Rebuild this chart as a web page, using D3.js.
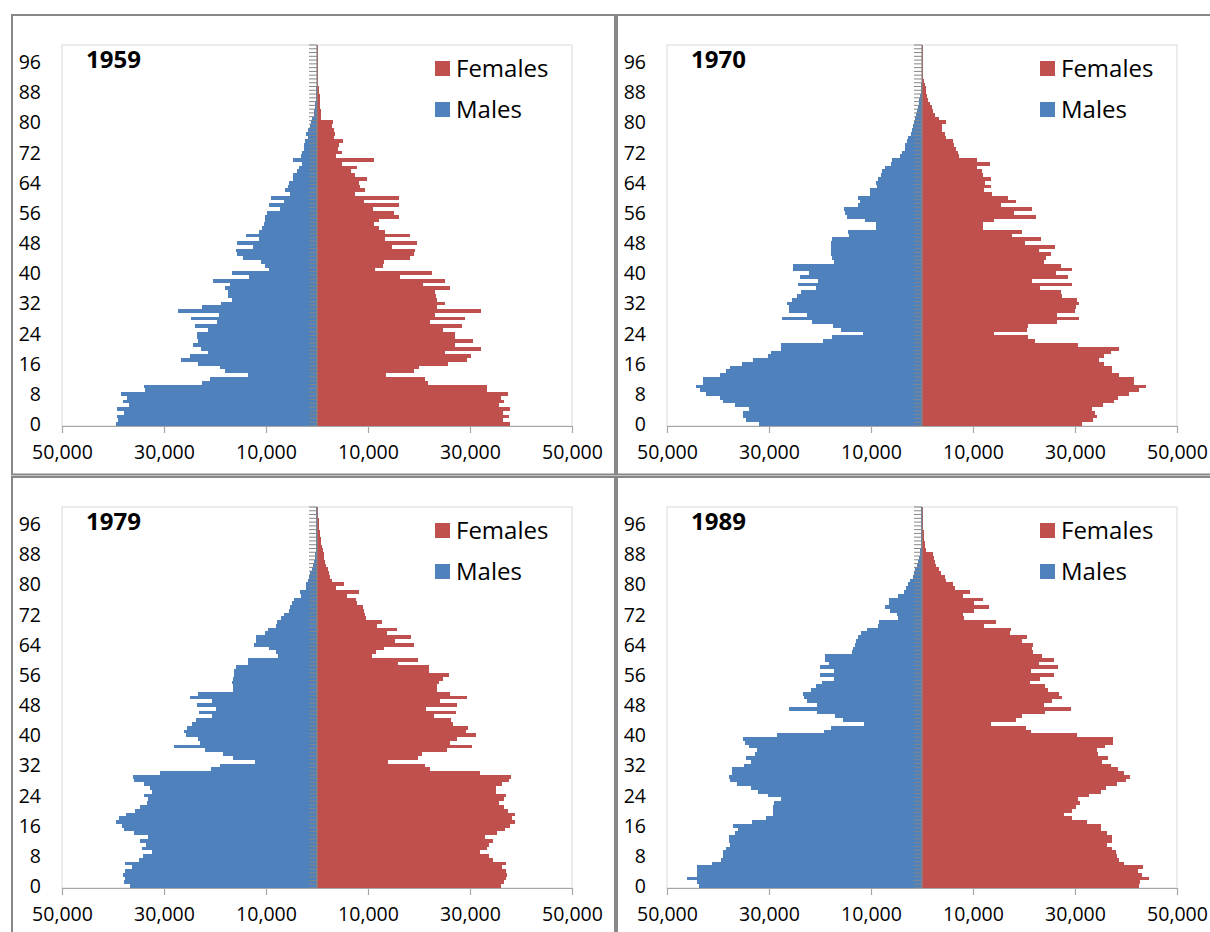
<!DOCTYPE html>
<html>
<head>
<meta charset="utf-8">
<script src="https://cdn.jsdelivr.net/npm/d3@7"></script>
<style>
	html, body { margin: 0; padding: 0; background: #fff; }
	svg { display: block; font-family: 'Open Sans', sans-serif; }
</style>
</head>
<body>
<svg id="chart"></svg>
<script>
'use strict';

// single years of age 0..100, population in thousands
const ages = d3.range(0, 101);
const ageLabels = d3.range(0, 97, 8);
const xTickValues = [-50000, -30000, -10000, 10000, 30000, 50000];
const years = ['1959', '1970', '1979', '1989'];
const legendLabels = ['Females', 'Males'];

const males1959 = [
	39.5,39.1,39.2,37.8,39.2,36.9,38.1,37.3,38.4,33.7,
	34.0,22.5,21.0,13.6,18.0,19.0,23.4,26.7,25.0,21.4,
	22.8,24.3,23.3,23.6,23.6,21.4,24.0,19.7,24.7,19.3,
	27.3,22.6,18.9,16.7,17.5,17.5,18.1,17.1,20.3,13.3,
	16.7,9.4,10.1,11.0,14.5,15.7,15.9,12.6,15.7,11.4,
	14.0,11.4,10.8,10.4,10.2,10.1,9.8,7.3,9.5,6.5,
	9.0,5.2,6.2,5.6,5.4,4.8,4.7,3.9,3.5,2.9,
	4.7,3.1,2.9,2.5,2.5,2.3,1.7,2.1,1.7,1.3,
	1.2,0.9,0.6,0.5,0.3,0.3,0.2,0.2,0.1,0.1,
	0.05,0.05,0.05,0.05,0.05,0.05,0.05,0.05,0.05,0.05,0.05
];
const females1959 = [
	37.8,36.4,37.7,36.4,37.8,35.7,36.7,36.1,37.4,33.4,
	33.4,21.7,21.2,13.6,19.0,20.0,25.7,29.5,30.1,25.0,
	32.2,27.1,30.5,27.1,27.0,24.7,28.5,22.1,29.1,23.2,
	32.2,23.6,25.0,23.5,23.3,23.1,26.0,20.8,25.0,16.3,
	22.5,11.3,12.9,13.2,18.3,19.1,19.2,14.7,19.7,13.4,
	18.3,13.4,12.2,11.1,12.1,16.1,15.0,10.9,16.0,9.3,
	16.1,7.4,9.5,8.5,8.2,9.8,7.4,6.7,7.9,4.9,
	11.2,3.7,4.9,4.1,4.3,5.0,3.4,3.6,3.4,2.9,
	3.1,0.8,0.8,0.8,0.6,0.6,0.5,0.5,0.3,0.3,
	0.2,0.2,0.1,0.1,0.1,0.1,0.1,0.1,0.1,0.1,0.1
];

const males1970 = [
	31.9,34.6,35.1,35.1,34.0,36.7,39.1,39.6,42.3,43.5,
	44.3,42.9,42.9,39.6,38.5,37.6,35.3,33.1,30.2,29.7,
	27.6,27.6,19.4,17.7,11.5,15.9,17.5,21.5,27.4,22.5,
	26.0,26.1,26.5,25.4,24.5,23.8,20.7,24.4,20.4,23.9,
	22.2,25.3,25.3,17.3,17.6,17.8,17.9,17.9,17.8,17.7,
	14.4,14.5,9.1,9.1,11.1,14.8,15.1,15.3,12.6,12.2,
	12.5,10.2,10.2,8.9,9.0,8.6,8.1,7.9,7.2,6.0,
	5.8,4.4,3.9,3.4,3.3,3.0,2.7,2.1,2.0,1.8,
	1.6,1.4,1.1,0.9,0.7,0.6,0.5,0.3,0.2,0.15,
	0.1,0.05,0.05,0.05,0.05,0.05,0.05,0.05,0.05,0.05,0.05
];
const females1970 = [
	31.4,33.5,34.4,34.0,33.4,35.4,37.7,38.5,40.6,42.6,
	43.9,41.6,41.6,38.7,37.3,37.3,35.7,34.7,35.6,37.0,
	38.7,30.5,22.2,20.7,14.1,20.6,20.8,26.5,30.8,26.4,
	30.0,30.1,30.7,30.4,27.4,27.2,23.1,29.4,21.5,28.7,
	26.3,29.4,27.2,24.0,24.4,25.2,22.9,26.1,20.1,23.4,
	17.7,19.6,11.9,11.9,14.2,22.4,18.0,21.5,15.5,18.4,
	16.8,13.8,12.2,13.6,12.4,13.6,11.9,11.7,10.7,13.4,
	10.7,7.2,7.0,6.6,6.3,6.1,4.7,4.5,4.0,4.0,
	4.7,3.3,2.6,2.2,1.9,1.5,1.2,1.0,0.8,0.7,
	0.5,0.3,0.2,0.1,0.1,0.1,0.1,0.1,0.1,0.1,0.1
];

const males1979 = [
	36.7,37.8,37.7,38.1,37.6,36.3,37.6,35.0,34.2,32.4,
	34.3,33.6,34.8,33.1,35.9,37.9,38.3,39.4,38.8,37.5,
	35.7,34.7,33.4,33.2,34.0,32.3,32.7,33.9,35.8,36.1,
	30.7,20.7,19.1,12.2,16.5,18.5,22.0,28.0,23.0,23.3,
	25.6,26.0,25.4,24.6,23.8,20.6,23.2,19.8,23.5,20.6,
	24.9,23.3,16.5,16.5,16.7,16.5,16.3,16.2,15.8,13.5,
	13.5,7.6,8.1,9.4,12.3,12.0,12.0,10.1,9.7,8.1,
	7.8,7.1,6.5,5.5,5.3,5.0,4.5,3.2,3.4,2.2,
	2.2,1.7,1.5,1.3,1.0,0.8,0.6,0.4,0.3,0.2,
	0.15,0.1,0.1,0.1,0.1,0.1,0.1,0.1,0.1,0.1,0.1
];
const females1979 = [
	36.0,36.7,37.1,37.3,37.1,36.2,37.1,34.5,33.8,32.0,
	33.4,33.7,34.5,33.0,35.2,36.9,37.8,38.8,38.3,38.8,
	37.4,36.7,35.7,36.7,37.1,35.0,35.0,36.2,37.7,38.1,
	32.0,22.1,21.2,14.0,19.9,20.6,25.5,30.4,26.0,27.5,
	31.1,29.2,29.7,26.6,26.2,22.9,27.3,21.4,27.5,24.1,
	29.4,26.0,23.5,23.5,24.0,24.7,25.9,21.9,21.9,15.9,
	19.8,10.8,11.5,13.1,19.0,15.3,18.5,13.8,15.7,11.8,
	12.8,9.7,9.5,9.3,9.0,7.8,7.6,5.9,8.3,3.8,
	5.2,2.9,2.5,2.4,2.1,1.7,1.5,1.3,1.3,1.2,
	1.0,0.8,0.8,0.6,0.5,0.4,0.3,0.3,0.2,0.2,0.2
];

const males1989 = [
	43.7,44.1,46.0,44.2,44.1,44.2,41.2,39.5,39.0,39.0,
	38.5,37.6,37.8,37.9,36.7,36.1,37.0,33.4,30.6,29.3,
	29.3,29.2,29.0,27.7,30.2,32.2,33.6,36.2,37.6,37.9,
	37.2,37.2,34.9,33.5,34.6,32.7,32.4,33.9,34.7,35.1,
	28.5,19.3,17.9,11.3,15.5,17.0,20.5,26.1,20.5,22.5,
	23.1,23.3,21.8,20.7,19.6,17.2,20.0,17.2,20.0,18.2,
	19.0,19.0,13.7,13.5,13.2,13.0,12.5,12.0,10.7,8.6,
	8.5,4.8,5.0,6.2,7.2,6.4,6.4,4.8,3.6,3.1,
	2.7,2.3,1.8,1.6,1.3,1.0,0.8,0.6,0.4,0.3,
	0.2,0.1,0.1,0.1,0.1,0.1,0.1,0.1,0.1,0.1,0.1
];
const females1989 = [
	42.5,42.8,44.6,43.2,42.3,43.4,39.7,38.6,38.3,38.0,
	37.3,36.2,37.2,37.2,36.2,35.0,35.0,32.3,29.4,27.8,
	29.4,30.1,30.9,30.6,32.7,35.0,36.0,38.3,40.0,40.8,
	39.7,38.5,37.1,35.2,36.5,34.6,34.4,35.9,37.4,37.4,
	30.4,21.3,20.4,13.5,18.4,19.6,24.2,29.2,24.0,25.4,
	27.4,26.9,24.7,24.2,21.1,23.1,25.9,21.4,26.6,22.9,
	25.9,23.6,21.7,21.5,21.7,19.7,20.6,17.3,17.4,12.2,
	14.5,8.3,8.0,10.1,13.2,10.1,12.0,8.1,9.5,6.5,
	6.0,4.8,4.5,3.8,3.4,2.7,2.5,2.3,2.2,0.8,
	0.6,0.5,0.4,0.35,0.3,0.2,0.2,0.2,0.2,0.2,0.2
];

const pyramids = [
	{ year: years[0], males: males1959, females: females1959 },
	{ year: years[1], males: males1970, females: females1970 },
	{ year: years[2], males: males1979, females: females1979 },
	{ year: years[3], males: males1989, females: females1989 }
];

const opts = {
	width: 1210,
	height: 932,
	panelDx: 605,
	panelDy: 462,
	plotLeft: 62,
	plotRight: 572,
	plotTop: 45,
	plotBottom: 426,
	unit: 1000,
	femaleColor: '#C0504D',
	maleColor: '#4F81BD',
	frameColor: '#878787',
	axisColor: '#868686',
	fontSize: 19.5
};

const svg = d3.select('#chart')
	.attr('width', opts.width)
	.attr('height', opts.height);

svg.append('rect')
	.attr('width', opts.width)
	.attr('height', opts.height)
	.attr('fill', '#fff');

const x = d3.scaleLinear()
	.domain([-50000, 50000])
	.range([opts.plotLeft, opts.plotRight]);

const y = d3.scaleBand()
	.domain(ages)
	.range([opts.plotBottom, opts.plotTop])
	.padding(0);

const fmt = d3.format(',');

/*
* drawPyramid()
* one panel: frame, plot area, bars, axes, title and legend
*/
const drawPyramid = (d, i) => {
	const dx = (i % 2) * opts.panelDx;
	const dy = Math.floor(i / 2) * opts.panelDy;

	const g = svg.append('g')
		.attr('class', 'panel')
		.attr('transform', `translate(${dx}, ${dy})`);

	// outer chart frame
	g.append('rect')
		.attr('x', 12)
		.attr('y', 15)
		.attr('width', 603)
		.attr('height', 459.5)
		.attr('fill', 'none')
		.attr('stroke', opts.frameColor)
		.attr('stroke-width', 2);

	// plot area border
	g.append('rect')
		.attr('x', opts.plotLeft)
		.attr('y', opts.plotTop)
		.attr('width', opts.plotRight - opts.plotLeft)
		.attr('height', opts.plotBottom - opts.plotTop)
		.attr('fill', 'none')
		.attr('stroke', '#d9d9d9')
		.attr('stroke-width', 1);

	const bars = g.append('g').attr('shape-rendering', 'crispEdges');

	bars.selectAll('rect.male')
		.data(ages)
		.join('rect')
		.attr('class', 'male')
		.attr('x', (a) => x(-d.males[a] * opts.unit))
		.attr('y', (a) => y(a))
		.attr('width', (a) => x(0) - x(-d.males[a] * opts.unit))
		.attr('height', y.bandwidth())
		.attr('fill', opts.maleColor);

	bars.selectAll('rect.female')
		.data(ages)
		.join('rect')
		.attr('class', 'female')
		.attr('x', x(0))
		.attr('y', (a) => y(a))
		.attr('width', (a) => x(d.females[a] * opts.unit) - x(0))
		.attr('height', y.bandwidth())
		.attr('fill', opts.femaleColor);

	// category axis in the middle, ticks between ages
	const centre = g.append('g').attr('stroke', opts.axisColor);
	centre.selectAll('line.tick')
		.data(ages.map((a) => y(a) + y.bandwidth()).concat([opts.plotTop]))
		.join('line')
		.attr('class', 'tick')
		.attr('x1', x(0) - 8)
		.attr('x2', x(0))
		.attr('y1', (v) => v)
		.attr('y2', (v) => v)
		.attr('stroke-width', 1);
	centre.append('line')
		.attr('x1', x(0))
		.attr('x2', x(0))
		.attr('y1', opts.plotTop)
		.attr('y2', opts.plotBottom)
		.attr('stroke-width', 1.2);

	// age labels sit at the low (left) side
	g.append('g')
		.selectAll('text')
		.data(ageLabels)
		.join('text')
		.attr('x', 41)
		.attr('y', (a) => y(a) + y.bandwidth() / 2)
		.attr('dy', '0.36em')
		.attr('text-anchor', 'end')
		.attr('font-size', opts.fontSize)
		.attr('fill', '#000')
		.text((a) => a);

	const xAxis = g.append('g')
		.attr('transform', `translate(0, ${opts.plotBottom})`)
		.call(d3.axisBottom(x)
			.tickValues(xTickValues)
			.tickFormat((v) => fmt(Math.abs(v)))
			.tickSize(7)
			.tickSizeOuter(0)
			.tickPadding(12));
	xAxis.select('.domain').attr('stroke', '#a6a6a6').attr('stroke-width', 1.2);
	xAxis.selectAll('.tick line').attr('stroke', '#a6a6a6').attr('stroke-width', 1.2);
	xAxis.selectAll('.tick text')
		.attr('font-family', 'Open Sans, sans-serif')
		.attr('font-size', opts.fontSize)
		.attr('fill', '#000');

	// year title
	g.append('text')
		.attr('x', 86)
		.attr('y', 68)
		.attr('font-size', 24)
		.attr('font-weight', 'bold')
		.attr('fill', '#000')
		.text(d.year);

	// legend
	const legend = g.append('g')
		.selectAll('g')
		.data(legendLabels)
		.join('g')
		.attr('transform', (l, k) => `translate(435, ${61 + k * 41})`);
	legend.append('rect')
		.attr('width', 15)
		.attr('height', 15)
		.attr('fill', (l) => l === 'Females' ? opts.femaleColor : opts.maleColor);
	legend.append('text')
		.attr('x', 21)
		.attr('y', 16)
		.attr('font-size', 24)
		.attr('fill', '#000')
		.text((l) => l);
};

pyramids.forEach(drawPyramid);
</script>
</body>
</html>
